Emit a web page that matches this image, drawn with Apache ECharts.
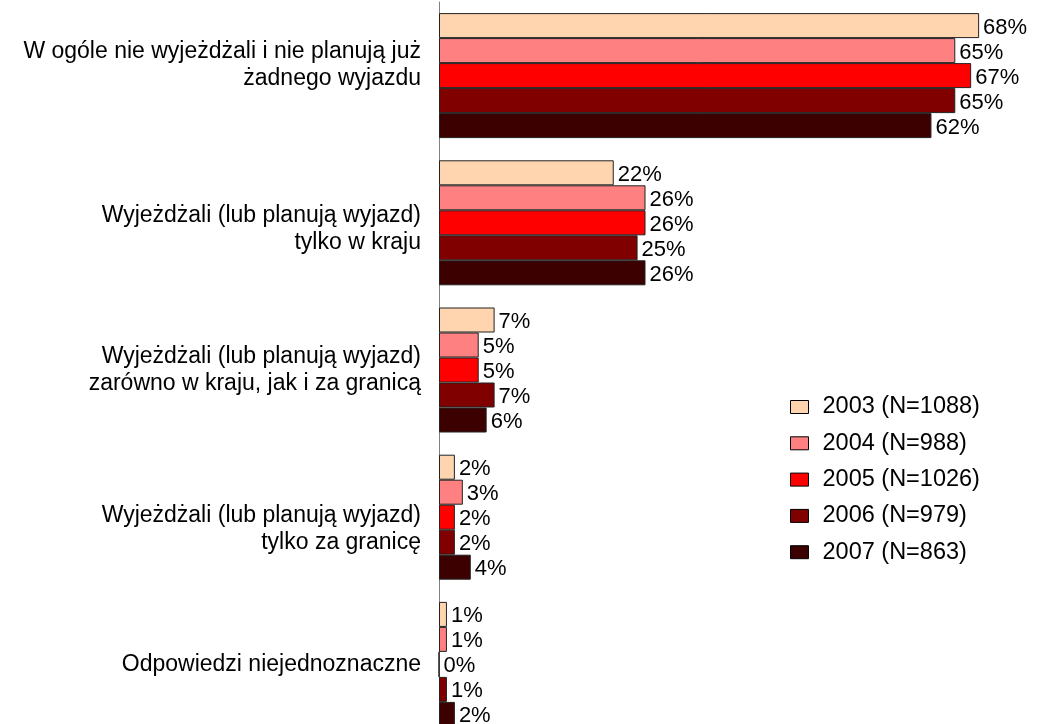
<!DOCTYPE html>
<html>
<head>
<meta charset="utf-8">
<script src="https://cdn.jsdelivr.net/npm/echarts@6/dist/echarts.min.js"></script>
<style>
html,body{margin:0;padding:0;background:#fff;}
#chart{width:1045px;height:724px;}
</style>
</head>
<body>
<div id="chart"></div>
<script>
const categories = [
  'W ogóle nie wyjeżdżali i nie planują już\nżadnego wyjazdu',
  'Wyjeżdżali (lub planują wyjazd)\ntylko w kraju',
  'Wyjeżdżali (lub planują wyjazd)\nzarówno w kraju, jak i za granicą',
  'Wyjeżdżali (lub planują wyjazd)\ntylko za granicę',
  'Odpowiedzi niejednoznaczne'
];
const seriesNames = ['2003 (N=1088)', '2004 (N=988)', '2005 (N=1026)', '2006 (N=979)', '2007 (N=863)'];
const v2003 = [68, 22, 7, 2, 1];
const v2004 = [65, 26, 5, 3, 1];
const v2005 = [67, 26, 5, 2, 0];
const v2006 = [65, 25, 7, 2, 1];
const v2007 = [62, 26, 6, 4, 2];
const seriesValues = [v2003, v2004, v2005, v2006, v2007];
const colors = ['#FFD5B0', '#FF8080', '#FF0000', '#800000', '#3D0000'];
// vertical nudge of each category label (px, + = down)
const labelShift = [-10, 6, 0, 12, 0];

const FONT = 'Liberation Sans, Arial, sans-serif';
const LH = 27;

function catLabel(value, idx) {
  const lines = value.split('\n').map(l => '{t|' + l + '}');
  const s = labelShift[idx] || 0;
  if (s > 0) lines.unshift('{s' + idx + '| }');
  if (s < 0) lines.push('{s' + idx + '| }');
  return lines.join('\n');
}
const rich = {t: {fontFamily: FONT, fontSize: 23, lineHeight: LH, color: '#000', align: 'right'}};
labelShift.forEach((s, i) => {
  if (s !== 0) rich['s' + i] = {fontSize: 1, lineHeight: Math.abs(s) * 2, height: Math.abs(s) * 2};
});

const chart = echarts.init(document.getElementById('chart'), null, {renderer: 'canvas'});
chart.setOption({
  animation: false,
  backgroundColor: '#fff',
  grid: {left: 439, width: 556, top: 2, height: 736, containLabel: false, outerBoundsMode: 'none'},
  xAxis: {
    type: 'value', min: 0, max: 70,
    show: false
  },
  yAxis: {
    type: 'category', data: categories, inverse: true,
    axisLine: {show: true, lineStyle: {color: '#808080', width: 1}},
    axisTick: {show: false},
    axisLabel: {
      color: '#000', fontFamily: FONT, fontSize: 23, lineHeight: LH,
      align: 'right', margin: 18, formatter: catLabel, rich: rich
    },
    splitLine: {show: false}
  },
  legend: {
    orient: 'vertical', left: 790, top: 395, padding: 0,
    icon: 'rect',
    itemWidth: 18, itemHeight: 13, itemGap: 12.3,
    textStyle: {color: '#000', fontFamily: FONT, fontSize: 23.5, lineHeight: 24, padding: [0, 0, 0, 9]},
    itemStyle: {borderColor: '#000', borderWidth: 1},
    data: seriesNames
  },
  series: seriesNames.map((name, i) => ({
    name: name,
    type: 'bar',
    data: seriesValues[i],
    barWidth: 25,
    barGap: '0%',
    itemStyle: {color: colors[i], borderColor: '#222', borderWidth: 1},
    label: {
      show: true, position: 'right', distance: 4, offset: [0, 2],
      formatter: '{c}%', color: '#000', fontFamily: FONT, fontSize: 22
    }
  }))
});
</script>
</body>
</html>
